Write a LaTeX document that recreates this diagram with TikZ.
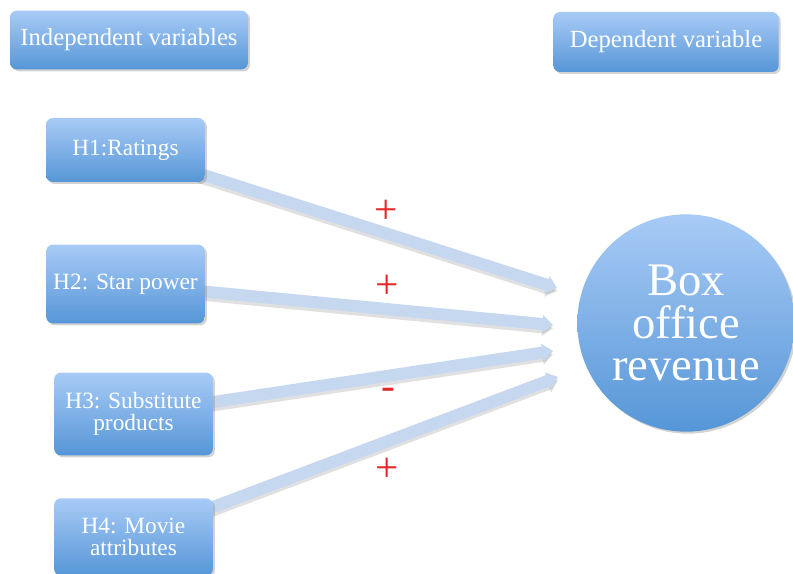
\documentclass[tikz,border=0pt]{standalone}
\usepackage{fontspec}
\setmainfont{Liberation Serif}
\usetikzlibrary{arrows.meta,shadows,backgrounds}

\definecolor{boxtop}{RGB}{168,203,246}
\definecolor{boxbottom}{RGB}{86,150,215}
\definecolor{arrowblue}{RGB}{198,215,240}
\definecolor{signred}{RGB}{228,40,40}

\tikzset{
  varbox/.style={rounded corners=5, top color=boxtop, bottom color=boxbottom,
    text=white, align=center, inner sep=0pt,
    drop shadow={shadow xshift=1.5pt, shadow yshift=-1.5pt, opacity=0.35},
    font=\fontsize{17.5pt}{16.5pt}\selectfont},
  headbox/.style={varbox, font=\fontsize{18.5pt}{18.5pt}\selectfont},
  effect/.style={line width=9pt, arrowblue,
    -{Triangle[length=8pt, width=13pt]}},
  effectshadow/.style={line width=9pt, black, opacity=0.12,
    -{Triangle[length=8pt, width=13pt]}},
  sign/.style={text=signred, font=\fontsize{31pt}{31pt}\selectfont}
}

\begin{document}
\begin{tikzpicture}[x=0.75pt, y=-0.75pt]
\useasboundingbox (0,0) rectangle (793,574);

% headings
\node[headbox, minimum width=178.5pt, minimum height=44pt] (indep) at (129,40) {Independent variables};
\node[headbox, minimum width=169pt, minimum height=45pt] (dep) at (666,42) {Dependent variable};

% hypothesis boxes
\node[varbox, minimum width=119pt, minimum height=48pt] (h1) at (125.5,150) {H1:Ratings};
\node[varbox, minimum width=119pt, minimum height=59pt] (h2) at (125.5,284) {H2: Star power};
\node[varbox, minimum width=119pt, minimum height=62pt] (h3) at (133.5,414) {H3: Substitute\\products};
\node[varbox, minimum width=119pt, minimum height=58pt] (h4) at (133.5,537) {H4: Movie\\attributes};

% outcome
\node[circle, minimum size=163pt, inner sep=0pt, top color=boxtop, bottom color=boxbottom,
  drop shadow={shadow xshift=1.5pt, shadow yshift=-1.5pt, opacity=0.35},
  text=white, align=center, font=\fontsize{35pt}{32pt}\selectfont] (box) at (686,323) {Box\\office\\revenue};

% arrow tips
\coordinate (t1) at (557,288);
\coordinate (t2) at (553,325);
\coordinate (t3) at (553,351);
\coordinate (t4) at (558,377);

\begin{scope}[on background layer]
\foreach \h/\t in {h1/t1,h2/t2,h3/t3,h4/t4} {
  \draw[effectshadow] ([yshift=-2.5pt]\h.center) -- ([yshift=-2.5pt]\t);
  \draw[effect] (\h.center) -- (\t);
}
\end{scope}

% signs
\node[sign] (s1) at (386,212) {+};
\node[sign] (s2) at (387,287) {+};
\node[sign] (s3) at (388,394) {-};
\node[sign] (s4) at (387,470) {+};

\end{tikzpicture}
\end{document}
